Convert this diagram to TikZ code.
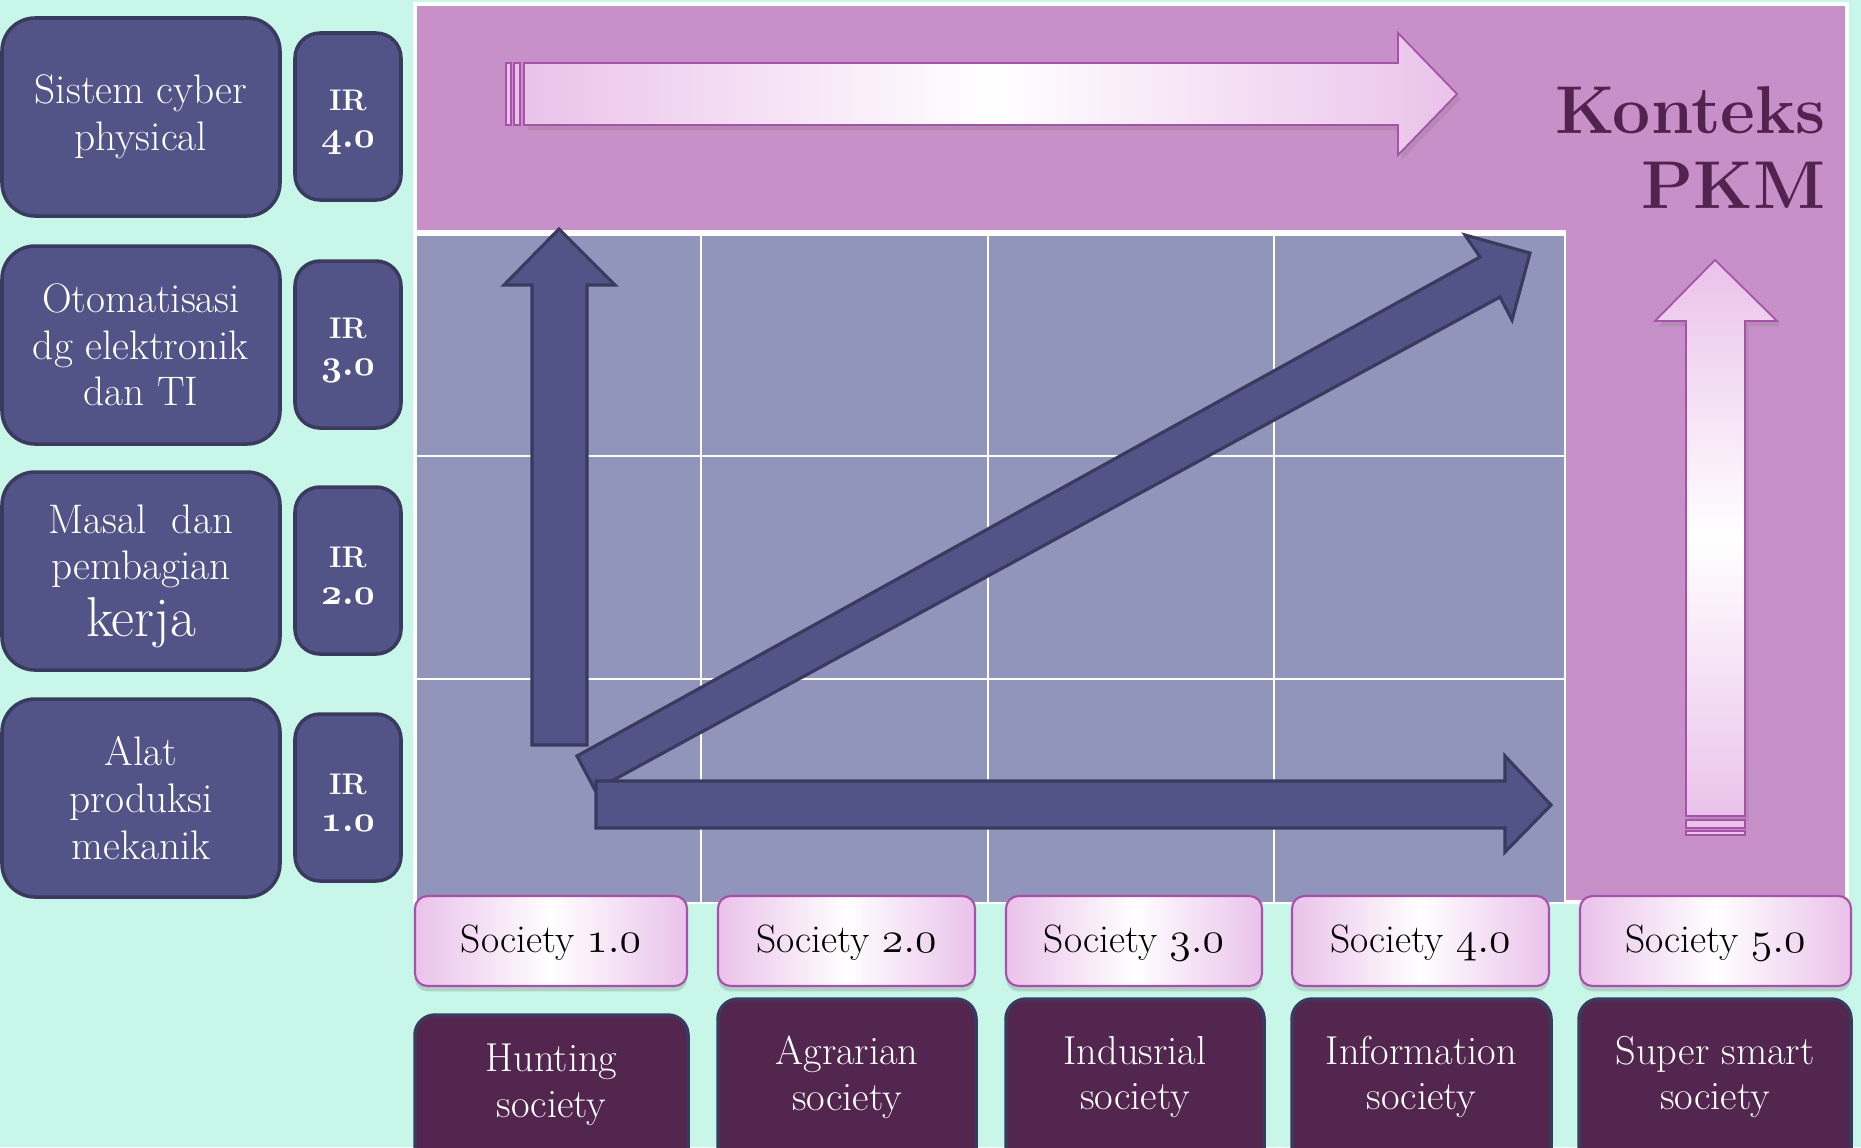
\documentclass[tikz,border=0pt]{standalone}
\usetikzlibrary{shadows}

\definecolor{mintbg}{HTML}{C8F6E8}
\definecolor{ctxpurple}{HTML}{C890C8}
\definecolor{gridblue}{HTML}{9295BB}
\definecolor{irfill}{HTML}{525487}
\definecolor{irline}{HTML}{393A5E}
\definecolor{erafill}{HTML}{52264F}
\definecolor{plumtext}{HTML}{52234F}
\definecolor{pinkedge}{HTML}{A552A8}
\definecolor{pinklight}{HTML}{EAC2EA}

% old-style figures (char 58 is the period in OML)
\newcommand{\irnum}[2]{{\fontsize{22}{22}\usefont{OML}{cmm}{b}{it}#1\char58 #2}}
\newcommand{\socnum}[2]{{\fontsize{26}{26}\usefont{OML}{cmm}{m}{it}#1\char58 #2}}

\tikzset{
  sidebox/.style={draw=irline, line width=2pt, fill=irfill, rounded corners=0.66cm},
  irbox/.style={draw=irline, line width=2pt, fill=irfill, rounded corners=0.5cm},
  sidetext/.style={text=white, align=center, font=\fontsize{23.5}{26.5}\selectfont},
  irtext/.style={text=white, align=center, font=\fontsize{17}{21}\selectfont\bfseries},
  socbox/.style={draw=pinkedge, line width=1.2pt, rounded corners=0.25cm,
    left color=pinklight, right color=pinklight, middle color=white,
    drop shadow={opacity=0.3, shadow xshift=0pt, shadow yshift=-3pt}},
  soctext/.style={font=\fontsize{22.5}{25}\selectfont},
  erabox/.style={draw=irline, line width=2pt, fill=erafill, rounded corners=0.4cm},
  eratext/.style={text=white, align=center, font=\fontsize{23}{26}\selectfont},
  darrow/.style={draw=irline, line width=1.8pt, fill=irfill},
  larrow/.style={draw=pinkedge, line width=1pt},
  ctxtext/.style={text=plumtext, font=\fontsize{38.5}{44}\selectfont\bfseries, inner sep=0pt}
}

\begin{document}
\begin{tikzpicture}[x=0.02cm, y=-0.02cm]
    % Background
    \fill[mintbg] (0,0) rectangle (1861,1147);
    \useasboundingbox (0,0) rectangle (1861,1147);

    % Context region and grid
    \draw[white, line width=2pt, fill=ctxpurple] (415,4) rectangle (1847,902);
    \fill[gridblue] (417,234) rectangle (1564,902);
    \draw[white, line width=3.5pt] (415,233) -- (1566,233);
    \draw[white, line width=1.5pt] (1565,233) -- (1565,902);
    \foreach \x in {701,988,1274} {
        \draw[white, line width=1.5pt] (\x,236) -- (\x,902);
    }
    \foreach \y in {456,679} {
        \draw[white, line width=1.5pt] (417,\y) -- (1564,\y);
    }

    % Industrial revolution rows
    \foreach \t/\dy/\txt/\ir [count=\i] in {
        18/99/{Sistem cyber\\physical}/{IR\\\irnum{4}{0}},
        246/99/{Otomatisasi\\dg elektronik\\dan TI}/{IR\\\irnum{3}{0}},
        472/104/{Masal\ \ dan\\pembagian\\[4pt]{\fontsize{32}{34}\selectfont kerja}}/{IR\\\irnum{2}{0}},
        699/99/{Alat\\produksi\\mekanik}/{IR\\\irnum{1}{0}}} {
        \draw[sidebox] (2,\t) rectangle (280,\t+198);
        \node[sidetext] (side\i) at (141,\t+\dy) {\txt};
        \draw[irbox] (295,\t+15) rectangle (401,\t+182);
        \node[irtext] (ir\i) at (348,\t+104) {\ir};
    }

    % Context arrows (light)
    \draw[larrow, left color=pinklight, right color=pinklight, middle color=white,
        drop shadow={opacity=0.25, shadow xshift=2pt, shadow yshift=-3pt}]
        (524,63) -- (1398,63) -- (1398,33) -- (1457,94) -- (1398,155) -- (1398,125) -- (524,125) -- cycle;
    \draw[larrow, fill=pinklight] (506,63) rectangle (511,125);
    \draw[larrow, fill=pinklight] (514,63) rectangle (520,125);

    \draw[larrow, top color=pinklight, bottom color=pinklight, middle color=white,
        drop shadow={opacity=0.25, shadow xshift=2pt, shadow yshift=-3pt}]
        (1686,816) -- (1686,321) -- (1655,321) -- (1715,260) -- (1777,321) -- (1745,321) -- (1745,816) -- cycle;
    \draw[larrow, fill=pinklight] (1686,820) rectangle (1745,828);
    \draw[larrow, fill=pinklight] (1686,831) rectangle (1745,835);

    % Konteks PKM
    \node[ctxtext, anchor=base east] (konteks) at (1826,133) {Konteks};
    \node[ctxtext, anchor=base east] (pkm) at (1826,208) {PKM};

    % Development arrows (dark)
    \draw[darrow] (532,745) -- (532,285) -- (504,285) -- (559,229) -- (615,285) -- (587,285) -- (587,745) -- cycle;
    \draw[darrow] (577,756) -- (1480,257) -- (1465,235) -- (1530,253) -- (1512,320) -- (1500,297) -- (595,790) -- cycle;
    \draw[darrow] (596,781) -- (1505,781) -- (1505,756) -- (1551,805) -- (1505,852) -- (1505,828) -- (596,828) -- cycle;

    % Society stages
    \foreach \xa/\xb/\n [count=\i] in {415/687/1, 718/975/2, 1006/1262/3, 1292/1549/4, 1580/1851/5} {
        \draw[socbox] (\xa,896) rectangle (\xb,986);
        \node[soctext] (soc\i) at ({(\xa+\xb)/2},943) {Society \socnum{\n}{0}};
    }

    % Society types
    \foreach \xa/\xb/\yt/\yc/\txt [count=\i] in {
        415/688/1015/1085/{Hunting\\society},
        718/976/999/1077/{Agrarian\\society},
        1006/1264/999/1077/{Indusrial\\society},
        1292/1551/999/1077/{Information\\society},
        1579/1851/999/1077/{Super smart\\society}} {
        \draw[erabox] (\xa,\yt) rectangle (\xb,1180);
        \node[eratext] (era\i) at ({(\xa+\xb)/2},\yc) {\txt};
    }
\end{tikzpicture}
\end{document}
